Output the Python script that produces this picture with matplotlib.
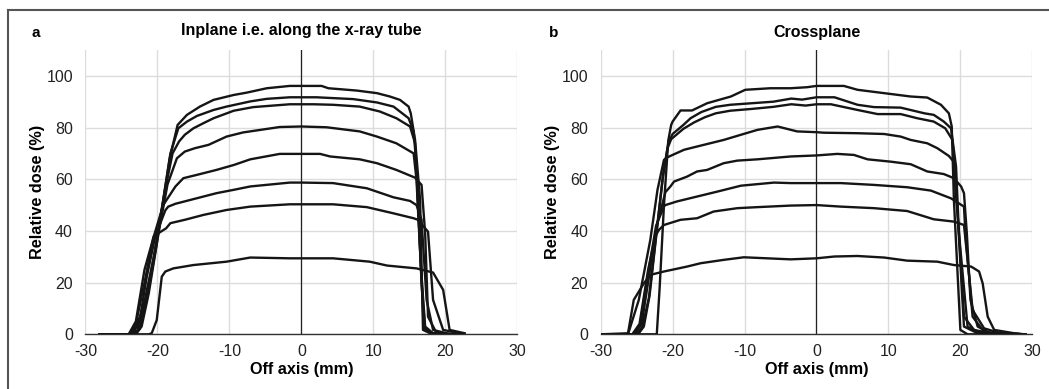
import matplotlib
matplotlib.use("Agg")
import matplotlib.pyplot as plt
from matplotlib.lines import Line2D

plt.rcParams['font.family'] = ['Liberation Sans', 'DejaVu Sans']
plt.rcParams['axes.unicode_minus'] = False

# panel a: inplane profiles (off axis mm, relative dose %)
a1_x = [-28, -24, -23.2, -22, -20.5, -19.3, -18.3, -17.2, -15.9, -14.1, -12.2, -9.4, -7.6, -4.8, -1.6, 0, 2.8, 3.75, 7.7, 10.5, 12.3, 13.7, 14.9, 15.2, 15.8, 16.5, 16.9, 17.9, 20]
a1_y = [0, 0, 1.5, 10, 30, 50, 68, 81, 84.9, 88.1, 90.7, 92.6, 93.5, 95.2, 96.1, 96.1, 96.1, 95.2, 94.3, 93.3, 92, 90.7, 88.1, 85.5, 75.2, 52, 1.7, 0.4, 0]
a2_x = [-28, -23.5, -22.8, -21.7, -20.3, -19.2, -18.2, -17.1, -15.9, -14.5, -12.2, -10.4, -9.9, -7.1, -4.8, -1.6, 0, 2.1, 7.2, 10.5, 12.8, 14.9, 15.6, 16.0, 16.7, 17.2, 18.3, 20.5]
a2_y = [0, 0, 1.5, 12, 33, 52, 70, 79.7, 82.3, 84.5, 86.8, 88.1, 88.4, 90.1, 91.1, 91.7, 91.7, 91.7, 91, 89.7, 88.1, 83.6, 78.5, 64.9, 19.7, 1.7, 0.4, 0]
a3_x = [-28, -23.3, -22.5, -21.5, -20.1, -19, -17.9, -17.0, -16.2, -15.0, -13.6, -12.2, -9.4, -6.7, -1.6, 0, 1.7, 4.4, 8.1, 10.9, 13.2, 15.1, 15.8, 16.4, 17.0, 17.9, 20]
a3_y = [0, 0, 2, 13, 35, 55, 70, 74.6, 77.2, 79.7, 81.7, 83.6, 86.5, 87.9, 89, 89, 89, 88.8, 88.1, 86.2, 83.6, 80.4, 73.9, 39, 3, 0.4, 0]
a4_x = [-28, -23, -22.2, -21.2, -19.8, -18.6, -17.3, -16.2, -14.8, -12.9, -10.4, -8.1, -3, 0, 3.5, 8.1, 10.5, 13.2, 15.6, 16.0, 16.6, 17.2, 18.3, 20.5]
a4_y = [0, 0, 3, 16, 40, 58, 68.1, 70.7, 72, 73.3, 76.5, 78.1, 80.2, 80.4, 80.1, 78.5, 76.5, 73.9, 70, 59.7, 26.2, 3, 0.4, 0]
a5_x = [-28, -23.8, -23, -21.8, -20.6, -19.2, -17.5, -16.4, -14.5, -11.8, -9.4, -7.1, -3.0, 0, 2.6, 4.0, 8.1, 10.5, 13.2, 15.8, 16.7, 17.2, 17.6, 18.8, 21]
a5_y = [0, 0, 4, 20, 37, 50, 57.2, 60.4, 61.7, 63.6, 65.5, 67.7, 69.8, 69.8, 69.8, 68.8, 67.7, 66.2, 63.6, 60.6, 57.8, 39, 6.8, 0.4, 0]
a6_x = [-28, -23.5, -22.5, -21.5, -20.3, -18.9, -18.5, -17.5, -15.0, -11.8, -9.4, -7.1, -1.6, 0, 4.4, 9.1, 12.8, 15.1, 16.0, 16.7, 17.4, 18.3, 20.2, 21.5]
a6_y = [0, 0, 5, 22, 38, 48, 49.4, 50.5, 52.3, 54.6, 55.9, 57.2, 58.7, 58.7, 58.5, 56.5, 53, 51.6, 50, 44.3, 13.3, 1.7, 0.4, 0]
a7_x = [-28, -24, -23, -21.8, -20.5, -18.8, -18.2, -16.2, -13.6, -10.4, -7.1, -1.6, 0, 4.4, 9.1, 12.8, 15.6, 16.2, 17.6, 18.3, 19.7, 22, 22.5]
a7_y = [0, 0, 5, 25, 38, 41, 43, 44.3, 46.2, 48.1, 49.4, 50.3, 50.3, 50.3, 49.2, 46.8, 44.9, 44.3, 39.7, 13.3, 1.7, 0.4, 0]
a8_x = [-28, -21.2, -20.8, -20.1, -19.4, -18.9, -17.8, -15.0, -10.4, -7.1, -1.6, 0, 4.4, 9.5, 11.9, 16.0, 18.3, 19.7, 20.6, 22.7]
a8_y = [0, 0, 0.4, 5.5, 22.3, 24.3, 25.5, 26.8, 28.1, 29.7, 29.4, 29.4, 29.4, 28.1, 26.6, 25.5, 23.9, 17.2, 1.7, 0.4]

# panel b: crossplane profiles
b1_x = [-30, -22.2, -21.8, -21.2, -20.6, -20.2, -20.0, -18.9, -17.3, -15.2, -11.9, -9.9, -6.4, -3.6, -1.3, 0, 3.8, 5.7, 9.4, 13.1, 15.4, 17.3, 18.4, 18.8, 19.1, 20.0, 21.0, 29]
b1_y = [0, 0, 18, 50, 75, 81, 82.3, 86.6, 86.6, 89.4, 92, 94.6, 95.2, 95.2, 95.6, 96.1, 96.1, 94.6, 93.3, 92, 91.6, 88.8, 85.5, 80.4, 52, 1.7, 0, 0]
b2_x = [-30, -24.8, -24, -23.2, -22.2, -21.3, -20.6, -20, -18.5, -17.5, -16, -14, -12, -9, -6, -3.5, -2, 0, 2.5, 5.7, 8, 11.7, 15, 16.3, 17.7, 18.7, 19.4, 19.8, 21.0, 22.8, 29]
b2_y = [0, 0, 3, 15, 40, 62, 74, 77.5, 81, 83.6, 86, 88, 88.8, 89.4, 90, 91.2, 90.8, 91.7, 91.7, 88.8, 87.9, 87.7, 85.5, 84.9, 82.3, 79.7, 64.9, 39, 3, 0.4, 0]
b3_x = [-30, -25, -24.2, -23.3, -22.3, -21.4, -20.7, -20.2, -18.5, -17, -15.5, -14, -12, -9, -6, -3.5, -1.5, 0, 2, 5.7, 8.5, 11.7, 14, 16.3, 17.9, 18.9, 19.5, 20.5, 22.4, 29]
b3_y = [0, 0, 3, 14, 38, 60, 72, 75.5, 79.5, 82, 84, 85.5, 86.5, 87.2, 88, 89, 88.5, 89, 89, 86.8, 85.2, 85.2, 83.6, 82.3, 79.7, 75.2, 52, 3, 0.4, 0]
b4_x = [-30, -26.2, -24.7, -23.1, -22.1, -21.2, -20.7, -20.0, -18.4, -16.1, -12.9, -10.5, -8.2, -5.4, -2.7, 0, 1, 5.7, 9.4, 11.7, 13.1, 15.4, 16.8, 18.4, 19.0, 19.8, 20.5, 21.9, 24.2, 29]
b4_y = [0, 0, 13.3, 36.5, 55.9, 67.5, 68.5, 69.4, 71.4, 73, 75.2, 77.2, 79.1, 80.4, 78.5, 78.2, 78, 77.8, 77.5, 76.5, 75.2, 73.9, 72, 69, 67, 40, 6.8, 1.7, 0.4, 0]
b5_x = [-30, -25.3, -24.3, -23.3, -22.2, -21, -20.3, -19.8, -18, -16.6, -15.2, -12.9, -11, -8.2, -3.6, 0, 2.9, 5.2, 7.1, 10.3, 13.1, 15.4, 17.7, 19.1, 20.1, 20.5, 20.9, 21.4, 22.4, 24.2, 29]
b5_y = [0, 0, 4, 22, 42, 55, 57.2, 59.1, 61, 63, 63.6, 66.2, 67.2, 67.7, 68.8, 69.2, 69.8, 69.4, 67.7, 66.8, 65.8, 63, 62, 60.4, 57.2, 54.6, 39, 13.3, 3, 0.4, 0]
b6_x = [-30, -25.5, -24.5, -23.5, -22.3, -21.2, -21.0, -19.4, -16.6, -13.8, -10.5, -5.9, -3.6, 0, 3.4, 8, 12.6, 15.9, 18.7, 20.5, 20.7, 21.7, 23.3, 25.2, 29]
b6_y = [0, 0, 4, 22, 42, 49.5, 50, 51.4, 53.3, 55.2, 57.5, 58.7, 58.5, 58.5, 58.5, 57.8, 56.9, 55.6, 52.6, 49.4, 39, 6.8, 1, 0.4, 0]
b7_x = [-30, -25.6, -24.6, -23.4, -22.4, -21.9, -21.2, -18.9, -16.6, -14.3, -11, -8.2, -3.6, 0, 3.4, 8, 12.6, 16.3, 19.1, 20.5, 20.9, 21.7, 23.3, 25.6, 29]
b7_y = [0, 0, 4, 25, 38, 40.4, 42.3, 44.3, 44.9, 47.5, 48.8, 49.2, 49.8, 50, 49.4, 48.8, 47.7, 44.5, 43.6, 42.3, 31.4, 9.4, 2.3, 0.4, 0]
b8_x = [-30, -26.2, -25.4, -24, -23.1, -21.2, -18, -16.1, -12.9, -10.1, -3.6, 0, 2.5, 5.7, 9.4, 12.6, 16.8, 19.1, 21.5, 22.6, 23.1, 23.8, 24.7, 27.5, 28.9]
b8_y = [0, 0.4, 13.3, 19.7, 23, 24.3, 26.2, 27.5, 28.8, 29.8, 29, 29.4, 30.1, 30.3, 29.7, 28.5, 28.1, 26.8, 26.2, 24.3, 19.7, 6.8, 1.7, 0.4, 0]

x_ticks = [-30, -20, -10, 0, 10, 20, 30]
y_ticks = [0, 20, 40, 60, 80, 100]

inplane = [(a1_x, a1_y), (a2_x, a2_y), (a3_x, a3_y), (a4_x, a4_y),
           (a5_x, a5_y), (a6_x, a6_y), (a7_x, a7_y), (a8_x, a8_y)]
crossplane = [(b1_x, b1_y), (b2_x, b2_y), (b3_x, b3_y), (b4_x, b4_y),
              (b5_x, b5_y), (b6_x, b6_y), (b7_x, b7_y), (b8_x, b8_y)]


def panel(ax, curves):
    for xs, ys in curves:
        ax.plot(xs, ys, color='#151515', lw=1.7, solid_joinstyle='round', zorder=3)
    ax.set_xlim(-30, 30)
    ax.set_ylim(0, 110)
    ax.set_xticks(x_ticks)
    ax.set_yticks(y_ticks)
    ax.grid(True, color='#dcdcdc', lw=1)
    ax.set_axisbelow(True)
    ax.axvline(0, color='#222222', lw=0.9, zorder=2)
    for s in ['top', 'right', 'left']:
        ax.spines[s].set_visible(False)
    ax.spines['bottom'].set_color('#333333')
    ax.spines['bottom'].set_linewidth(1)
    ax.tick_params(length=0, labelsize=11.5, colors='#222222')
    ax.tick_params(axis='y', pad=9)
    ax.tick_params(axis='x', pad=7)
    ax.set_xlabel('Off axis (mm)', fontsize=11.7, fontweight='bold')
    ax.set_ylabel('Relative dose (%)', fontsize=11.7, fontweight='bold')
    ax.xaxis.set_label_coords(0.5, -0.097)
    ax.yaxis.set_label_coords(-0.094, 0.5)


fig = plt.figure(figsize=(10.49, 3.89), dpi=100)
ax_a = fig.add_axes([0.0815, 0.1406, 0.4116, 0.7309])
ax_b = fig.add_axes([0.5726, 0.1406, 0.4115, 0.7309])
panel(ax_a, inplane)
panel(ax_b, crossplane)

fig.text(31 / 1049, 1 - 33 / 389, 'a', fontsize=11, fontweight='bold', va='center')
fig.text(549 / 1049, 1 - 33 / 389, 'b', fontsize=11, fontweight='bold', va='center')
fig.text(301.4 / 1049, 1 - 31 / 389, 'Inplane i.e. along the x-ray tube', fontsize=11.5,
         fontweight='bold', ha='center', va='center')
fig.text(816.5 / 1049, 1 - 33 / 389, 'Crossplane', fontsize=11.5,
         fontweight='bold', ha='center', va='center')

# outer frame (top and left edges)
fig.add_artist(Line2D([8 / 1049, 8 / 1049], [0, 1 - 10 / 389], transform=fig.transFigure, color='#555555', lw=1.5))
fig.add_artist(Line2D([8 / 1049, 1], [1 - 10 / 389, 1 - 10 / 389], transform=fig.transFigure, color='#555555', lw=1.5))

fig.savefig('out.png', dpi=100)
